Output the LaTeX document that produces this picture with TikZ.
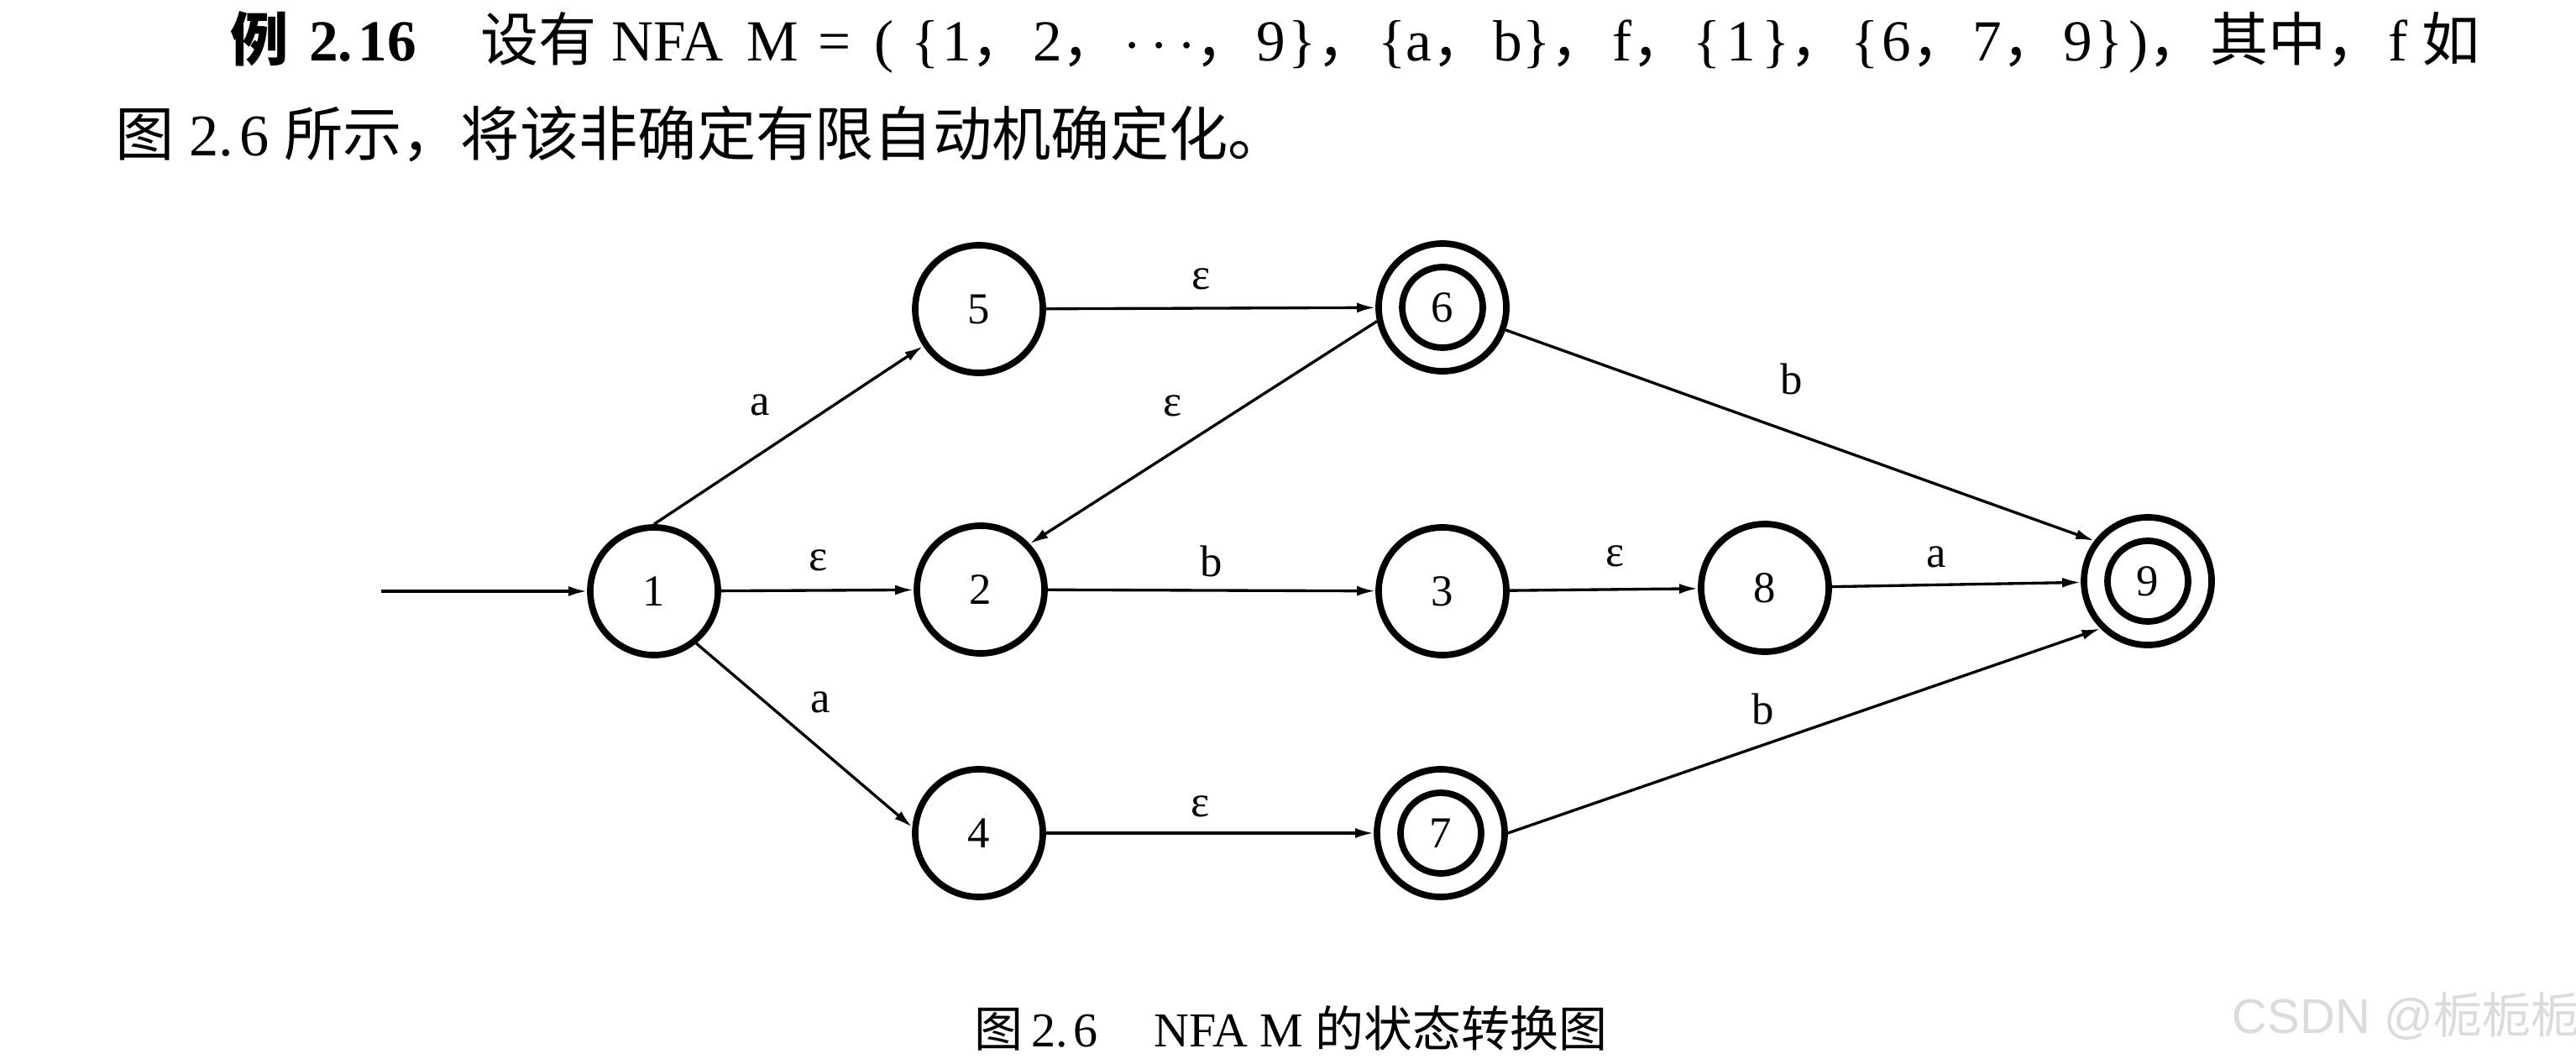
\documentclass[tikz,border=0pt]{standalone}
\usepackage{fontspec}
\setmainfont{Liberation Serif}
\newfontfamily\cjk{Noto Sans CJK SC}
\newfontfamily\wmfont{Liberation Sans}
\usetikzlibrary{arrows.meta}
\newcommand{\fc}{{\cjk ，}\kern0.06em}

\begin{document}
\begin{tikzpicture}[
    state/.style={circle, draw, line width=2.2pt, minimum size=1.52cm, inner sep=0pt,
        font=\fontsize{15}{18}\selectfont},
    accept/.style={state, path picture={\draw[line width=2.2pt]
        (path picture bounding box.center) circle (0.48cm);}},
    trans/.style={-{Latex[length=0.22cm,width=0.12cm]}, line width=0.95pt},
    lbl/.style={font=\fontsize{15}{18}\selectfont, inner sep=2pt}
]
    \useasboundingbox (0,0) rectangle (30.68,12.60);

    % 题目
    \node[anchor=base west, inner sep=0pt, font=\fontsize{19.7}{23}\selectfont] (title1) at (2.74,11.88)
        {{\cjk\bfseries 例}\hspace{0.35em}\textbf{2.\kern0.1em 16}\hspace{1.1em}{\cjk 设有} NFA\hspace{0.4em}M\hspace{0.35em}=\hspace{0.4em}(\hspace{0.3em}\{\kern0.05em 1\fc 2\fc $\cdots$\fc 9\kern0.05em\}\fc \{a\fc b\}\fc f\fc \{\kern0.1em 1\kern0.1em\}\fc \{\kern0.05em 6\fc 7\fc 9\kern0.05em\}\kern0.1em)\fc {\cjk 其中}\fc f {\cjk 如}};
    \node[anchor=base west, inner sep=0pt, font=\fontsize{20}{23}\selectfont] (title2) at (1.37,10.75)
        {{\cjk 图} 2.\kern0.1em 6 {\cjk 所示，将该非确定有限自动机确定化。}};

    % 状态
    \node[state]  (n1) at (7.79,5.56) {1};
    \node[state]  (n5) at (11.66,8.92) {5};
    \node[accept] (n6) at (17.18,8.94) {6};
    \node[state]  (n2) at (11.68,5.58) {2};
    \node[state]  (n3) at (17.18,5.56) {3};
    \node[state]  (n8) at (21.02,5.60) {8};
    \node[accept] (n9) at (25.58,5.68) {9};
    \node[state]  (n4) at (11.66,2.68) {4};
    \node[accept] (n7) at (17.16,2.68) {7};

    % 初态箭头
    \coordinate (start) at (4.54,5.56);
    \draw[trans] (start) -- (n1);

    % 转换
    \draw[trans] (n1.north) -- node[lbl, pos=0.5, above left=1.4mm] {a} (n5);
    \draw[trans] (n1) -- node[lbl, pos=0.506, above=1.4mm] {ε} (n2);
    \draw[trans] (n1.309) -- node[lbl, pos=0.46, above right=0.9mm] {a} (n4.175);
    \draw[trans] (n5) -- node[lbl, pos=0.47, above=1.3mm] {ε} (n6);
    \draw[trans] (n6.192) -- node[lbl, pos=0.51, above left=1.3mm] {ε} (n2.43);
    \draw[trans] (n2) -- node[lbl, pos=0.5, above=0.7mm] {b} (n3);
    \draw[trans] (n3) -- node[lbl, pos=0.56, above=1.8mm] {ε} (n8);
    \draw[trans] (n8) -- node[lbl, pos=0.42, above=1.2mm] {a} (n9);
    \draw[trans] (n6) -- node[lbl, pos=0.485, above=3.6mm] {b} (n9.143);
    \draw[trans] (n4) -- node[lbl, pos=0.47, above=1mm] {ε} (n7);
    \draw[trans] (n7.east) -- node[lbl, pos=0.43, above=1.6mm] {b} (n9.225);

    % 图题
    \node[anchor=base west, inner sep=0pt, font=\fontsize{16.5}{19}\selectfont] (caption) at (11.60,0.14)
        {{\cjk 图}\,2.\kern0.12em 6\hspace{1.15em}NFA M {\cjk 的状态转换图}};
    \node[anchor=base west, inner sep=0pt, text=gray!28, font=\fontsize{16.5}{19}\selectfont] (mark) at (26.58,0.30)
        {\wmfont CSDN @{\cjk 栀栀栀}};
\end{tikzpicture}
\end{document}
